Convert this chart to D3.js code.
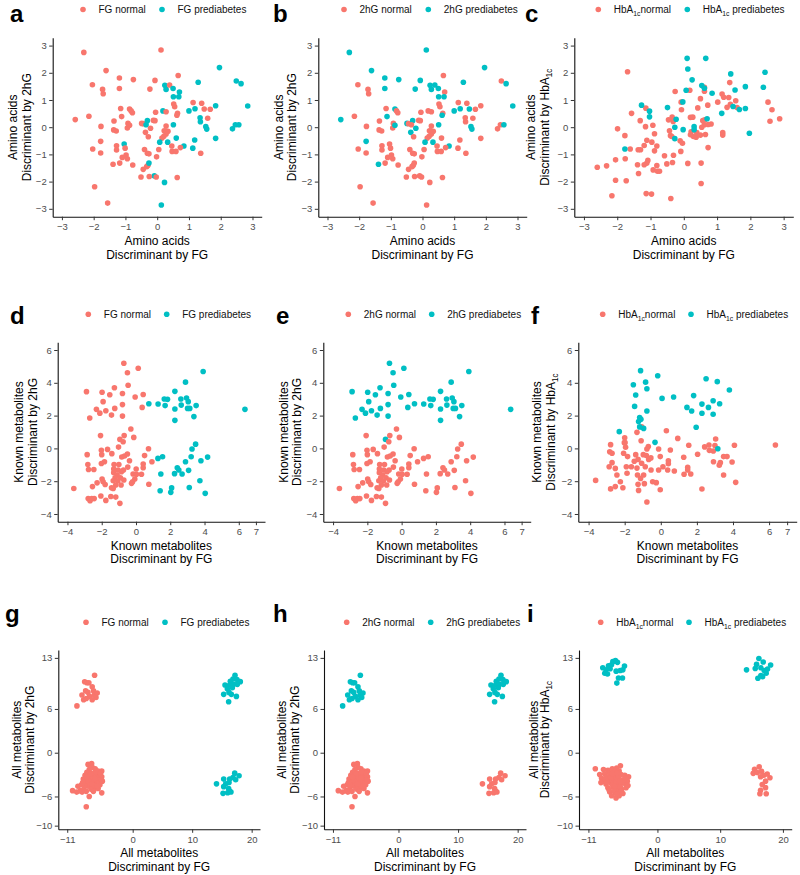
<!DOCTYPE html>
<html><head><meta charset="utf-8">
<script src="https://cdn.jsdelivr.net/npm/d3@7"></script>
<style>
body{margin:0;background:#fff}
text{font-family:"Liberation Sans",Arial,Helvetica,sans-serif}
</style>
</head><body>
<svg id="chart" width="800" height="875"></svg>
<script>
// ---------------- DATA ----------------
const colNormal = "#F8766D", colPre = "#00BFC4";

// Row 1 (a,b): amino acids, [FG discriminant, 2hG discriminant, FG prediabetes, 2hG prediabetes]
const aminoFG2hG = [
[-2.31,2.75,0,1],[0.12,2.84,0,1],[-1.61,2.08,0,1],[1.96,2.19,1,1],[-2.04,1.56,0,0],[-1.19,1.81,0,1],
[-0.75,1.75,0,1],[-0.07,1.72,0,1],[0.66,1.90,0,0],[1.29,1.65,1,1],[2.49,1.70,1,0],[2.64,1.60,1,1],
[-1.72,1.39,0,0],[-1.70,1.23,0,0],[-1.19,1.42,0,1],[-0.23,1.40,0,1],[0.24,1.54,1,1],[0.28,1.39,1,1],
[0.39,1.55,0,1],[0.50,1.42,1,1],[0.70,1.29,1,0],[0.51,1.12,1,1],[0.68,1.12,1,1],[1.13,0.91,0,0],
[1.40,0.88,0,0],[1.00,0.60,1,1],[1.19,0.68,1,1],[1.48,0.67,0,1],[1.67,0.66,0,0],[1.84,0.79,1,0],
[2.85,0.78,1,1],[0.52,0.85,0,0],[0.55,0.75,0,0],[0.18,0.60,1,0],[0.28,0.57,0,0],[-0.05,0.55,0,0],
[0.64,0.51,0,0],[0.62,0.44,0,1],[-2.58,0.28,0,1],[-2.15,0.40,0,0],[-1.15,0.69,0,0],[-0.87,0.67,0,1],
[-0.82,0.60,0,0],[-0.78,0.53,0,0],[-1.12,0.39,0,1],[-1.36,0.23,0,0],[-1.77,0.03,0,0],[-1.37,-0.10,0,0],
[-1.29,-0.14,0,0],[-0.92,0.14,0,0],[-0.94,-0.03,0,0],[-0.87,0.07,0,1],[-0.49,0.14,0,1],[-0.44,0.13,0,0],
[-0.31,0.24,1,1],[-0.35,0.09,1,0],[-0.12,0.25,0,0],[-0.07,0.24,0,0],[-0.21,-0.04,0,1],[-0.37,-0.19,0,1],
[-0.28,-0.35,0,0],[0.28,0.04,0,0],[0.22,-0.13,0,0],[0.34,-0.15,0,0],[0.28,-0.25,0,0],[0.21,-0.33,0,0],
[0.15,-0.40,0,0],[0.51,0.09,1,1],[0.60,-0.40,1,0],[0.33,-0.55,1,1],[0.08,-0.55,1,1],[1.35,0.35,1,0],
[1.36,0.20,1,0],[1.59,0.33,0,0],[1.53,0.02,1,1],[1.56,-0.07,1,1],[2.37,-0.06,1,0],[2.46,0.09,1,0],
[2.57,0.09,1,1],[1.84,-0.41,1,0],[1.18,-0.47,1,0],[0.84,-0.69,1,1],[1.12,-0.77,1,0],[0.46,-0.69,0,0],
[0.47,-0.89,0,0],[0.59,-0.89,0,0],[0.73,-0.75,0,0],[1.37,-0.96,0,0],[-1.78,-0.52,0,1],[-1.04,-0.62,1,0],
[-1.28,-0.68,0,0],[-1.28,-0.84,0,0],[-1.01,-0.77,0,0],[-2.03,-0.80,0,0],[-1.78,-0.95,0,0],[-0.40,-0.82,0,0],
[-0.31,-0.96,0,0],[-0.26,-0.98,0,0],[0.05,-0.82,0,0],[-0.02,-1.09,0,0],[-0.98,-1.02,0,0],[-1.10,-1.11,0,0],
[-0.94,-1.16,0,0],[-1.39,-1.36,0,1],[-1.18,-1.32,0,0],[-0.77,-1.39,0,0],[-0.44,-1.55,0,0],[-0.33,-1.45,0,0],
[-0.29,-1.40,0,0],[-0.26,-1.32,1,0],[-0.09,-1.79,1,0],[-0.51,-1.83,0,0],[-0.25,-1.81,0,0],[-0.03,-1.83,0,0],
[0.63,-1.85,0,0],[0.23,-2.03,1,0],[-1.97,-2.19,0,0],[-1.56,-2.79,0,0],[0.13,-2.86,1,0]
];

// Row 1 (c): amino acids, [FG discriminant, HbA1c discriminant, HbA1c prediabetes]
const aminoHbA1c = [
[-1.69,2.04,0],[-1.57,0.51,0],[-2.60,-1.47,0],[-2.32,-1.42,0],[-2.05,-1.95,0],[-2.16,-2.52,0],
[-1.99,-0.06,0],[-1.77,-0.31,0],[-1.76,-1.16,0],[-1.73,-1.97,0],[-1.61,-0.80,0],[-2.05,-1.20,0],
[-1.31,0.24,0],[-1.15,0.02,0],[-1.14,0.70,0],[-1.37,-0.83,0],[-1.30,-0.83,0],[-1.19,-0.67,0],
[-1.11,-0.48,0],[-1.08,-1.22,0],[-1.11,-1.32,0],[-1.19,-1.38,0],[-1.39,-1.38,0],[-1.36,-1.70,0],
[-1.13,-2.44,0],[-0.97,-2.46,0],[-0.93,0.07,0],[-0.88,-0.24,0],[-0.96,-0.55,0],[-0.88,-0.87,0],
[-0.81,-0.69,0],[-0.81,-1.41,0],[-0.92,-1.57,0],[-0.79,-1.62,0],[-0.73,-1.62,0],[-0.51,-1.35,0],
[-0.34,-1.30,0],[-0.31,-1.03,0],[-0.39,-2.62,0],[-0.26,1.31,0],[-0.46,0.27,0],[-0.43,-0.13,0],
[-0.40,-0.31,0],[-0.36,-0.34,0],[-0.35,0.37,0],[-0.32,0.21,0],[-0.08,0.92,0],[-0.07,0.64,0],
[-0.11,-0.50,0],[-0.04,-0.59,0],[-0.09,-0.89,0],[0.12,-1.33,0],[0.18,1.36,0],[0.20,0.36,0],
[0.27,0.37,0],[0.22,-0.17,0],[0.20,-0.28,0],[0.29,-0.34,0],[0.37,-0.37,0],[0.39,-0.20,0],
[0.42,0.71,0],[0.50,1.05,0],[0.57,0.24,0],[0.62,1.47,0],[0.62,1.32,0],[0.63,0.27,0],
[0.62,0.09,0],[0.54,0.00,0],[0.50,-0.29,0],[0.52,-1.32,0],[0.52,-2.07,0],[0.72,0.81,0],
[0.65,-0.27,0],[0.73,-0.75,0],[0.82,0.12,0],[0.73,0.10,0],[1.02,0.92,0],[1.15,1.22,0],
[1.20,1.10,0],[1.17,-0.20,0],[1.17,-0.29,0],[1.30,0.73,0],[1.38,1.64,0],[1.35,1.09,0],
[1.40,0.84,0],[1.56,0.97,0],[1.60,0.72,0],[2.53,0.92,0],[2.65,0.64,0],[2.59,0.22,0],
[2.88,0.31,0],[-0.58,-1.05,0],
[0.10,2.53,1],[0.66,2.53,1],[0.12,2.14,1],[0.25,1.74,1],[1.41,1.96,1],[2.44,2.02,1],
[0.07,1.36,1],[0.54,1.53,1],[0.62,1.43,1],[0.85,1.25,1],[1.54,1.37,1],[1.85,1.49,1],
[2.39,1.47,1],[-1.27,0.81,1],[-1.03,0.59,1],[-1.03,0.38,1],[-0.49,0.72,1],[-0.03,0.93,1],
[1.14,0.51,1],[1.48,0.76,1],[1.67,0.65,1],[1.85,0.69,1],[0.70,0.31,1],[-0.23,0.29,1],
[-0.27,0.00,1],[-0.02,-0.09,1],[-0.27,-0.42,1],[0.31,0.02,1],[0.31,-0.09,1],[1.97,-0.22,1],
[-1.77,-0.80,1]
];

// Row 2 (d,e): known metabolites, [FG discriminant, 2hG discriminant, FG prediabetes, 2hG prediabetes]
const knownFG2hG = [
[-0.71,5.19,0,1],[0.13,4.89,0,1],[-0.50,4.61,0,1],[-0.46,3.85,0,1],[-2.89,3.46,0,1],[-1.98,3.42,0,1],
[-1.26,3.70,0,1],[-1.53,3.27,0,1],[-0.79,3.35,0,1],[-0.05,3.13,0,1],[0.42,3.29,0,1],[-1.92,2.85,0,1],
[-0.79,2.67,0,1],[-2.31,2.38,0,1],[-1.76,2.30,0,1],[-2.11,2.15,0,1],[-1.24,2.44,0,1],[-2.70,1.85,0,1],
[-1.43,2.03,0,1],[-0.79,1.97,0,1],[0.36,2.50,0,1],
[3.92,4.69,1,1],[2.89,4.04,1,1],[2.27,3.48,1,1],[1.65,3.01,1,1],[1.84,2.99,1,1],[2.62,3.01,1,1],
[2.95,3.07,1,1],[3.05,2.85,1,1],[1.29,2.71,1,1],[0.75,2.72,1,1],[1.70,2.61,1,1],[2.64,2.64,1,1],
[2.27,2.40,1,1],[3.01,2.44,1,1],[3.14,2.44,1,1],[3.51,2.61,1,1],[3.38,1.94,1,1],[2.27,1.71,1,1],
[6.36,2.38,1,1],
[-2.07,0.78,0,0],[-0.30,1.18,0,0],[-0.69,0.78,0,0],[-0.94,0.55,0,1],[-0.13,0.67,0,0],[-0.75,0.41,0,0],
[-1.02,0.08,0,0],[0.73,-0.02,0,0],[-1.66,-0.06,0,0],[-2.02,-0.12,0,0],[-2.85,-0.38,0,0],[-2.00,-0.38,0,0],
[-1.41,-0.32,0,0],[-0.83,-0.52,0,0],[-0.67,-0.46,0,0],[-0.50,-0.34,0,0],[0.50,-0.44,0,0],[-1.84,-0.81,0,0],
[-2.02,-0.92,0,0],[-2.81,-0.98,0,0],[-1.28,-0.98,0,0],[-1.00,-0.98,0,0],[-0.38,-0.75,0,0],[0.42,-0.95,0,0],
[0.93,-0.81,0,0],[-2.77,-1.29,0,0],[-2.46,-1.29,0,0],[-1.30,-1.26,0,0],[-1.04,-1.32,0,0],[-0.73,-1.32,0,0],
[-0.48,-1.14,0,0],[0.01,-1.26,0,0],[0.42,-1.18,0,0],[-1.30,-1.48,0,0],[-1.10,-1.62,0,0],[-0.85,-1.42,0,0],
[-0.17,-1.56,0,0],[0.32,-1.58,0,0],[0.03,-1.58,0,0],[-1.98,-1.87,0,0],[-1.22,-1.79,0,0],[-0.91,-1.79,0,0],
[-0.71,-1.93,0,0],[-1.33,-1.97,0,0],[-1.06,-1.99,0,0],[-1.92,-2.03,0,0],[-2.27,-2.10,0,0],[-1.80,-2.20,0,0],
[-0.20,-2.03,0,0],[-0.07,-1.87,0,0],[-0.26,-2.13,0,0],[0.75,-2.19,0,0],[-1.18,-2.23,0,0],[-0.87,-2.23,0,0],
[-1.43,-2.40,0,0],[-1.33,-2.44,0,0],[-3.63,-2.45,0,0],[-2.54,-2.33,0,0],[-2.05,-2.90,0,0],[-2.79,-3.06,0,0],
[-2.58,-3.06,0,0],[-2.68,-3.19,0,0],[-2.44,-3.06,0,0],[-1.76,-3.17,0,0],[-1.47,-2.93,0,0],[-1.18,-2.97,0,0],
[-0.94,-3.35,0,0],
[1.28,-0.61,1,0],[1.55,-0.51,1,0],[3.48,0.26,1,0],[3.27,-0.04,1,0],[4.18,-0.53,1,0],[3.22,-0.51,1,0],
[2.89,-0.81,1,0],[3.79,-0.75,1,0],[2.41,-1.18,1,0],[2.50,-1.32,1,0],[3.07,-1.34,1,0],[2.69,-1.56,1,0],
[1.45,-1.56,1,0],[2.25,-1.54,1,0],[3.73,-1.97,1,0],[2.08,-2.41,1,0],[3.11,-2.38,1,0],[1.41,-2.58,1,0],
[2.03,-2.68,1,0],[4.04,-2.74,1,0]
];

// Row 2 (f): known metabolites, [FG discriminant, HbA1c discriminant, HbA1c prediabetes]
const knownHbA1c = [
[-1.06,1.32,0],[-1.32,0.98,0],[0.31,1.08,0],[0.94,0.61,0],[-2.00,0.65,0],[-1.09,0.47,0],
[-2.78,0.23,0],[-2.02,0.35,0],[-1.95,0.07,0],[-0.69,0.11,0],[-0.77,-0.04,0],[-0.12,-0.04,0],
[0.53,-0.10,0],[1.55,0.19,0],[3.04,0.57,0],[2.43,0.09,0],[2.67,0.21,0],[3.00,0.17,0],
[2.69,-0.12,0],[2.91,-0.16,0],[4.08,0.19,0],[6.35,0.21,0],[-2.83,-0.20,0],[-2.70,-0.30,0],
[-2.06,-0.30,0],[-1.84,-0.50,0],[-1.39,-0.38,0],[-0.97,-0.38,0],[-0.80,-0.44,0],[-1.26,-0.67,0],
[-1.06,-0.91,0],[-0.67,-0.67,0],[-0.03,-0.50,0],[0.42,-0.75,0],[0.42,-0.93,0],[1.27,-0.54,0],
[2.04,-0.36,0],[3.67,-0.50,0],[3.48,-0.50,0],[2.92,-0.81,0],[3.30,-0.87,0],[3.24,-1.02,0],
[3.95,-0.83,0],[-2.86,-1.12,0],[-2.70,-0.87,0],[-2.52,-1.22,0],[-1.91,-1.12,0],[-1.63,-1.12,0],
[-1.87,-1.52,0],[-1.32,-1.20,0],[-0.86,-1.12,0],[-0.54,-1.32,0],[-0.12,-1.32,0],[0.12,-1.12,0],
[0.38,-1.32,0],[0.75,-1.38,0],[1.49,-1.16,0],[1.49,-1.32,0],[-2.43,-1.62,0],[-1.29,-1.62,0],
[-0.95,-1.62,0],[1.29,-1.58,0],[1.66,-1.56,0],[3.48,-1.62,0],[-3.61,-1.95,0],[-2.24,-2.03,0],
[-1.26,-2.19,0],[-0.91,-2.15,0],[-0.45,-2.03,0],[-0.25,-2.09,0],[4.15,-2.07,0],[-2.78,-2.47,0],
[-2.52,-2.33,0],[-2.10,-2.40,0],[-1.23,-2.56,0],[-0.03,-2.52,0],[2.28,-2.48,0],[-0.77,-3.27,0],
[-1.98,0.35,0],[-1.47,-0.78,0],[-0.55,-0.58,0],[-1.12,-1.83,0],
[-1.12,4.74,1],[-0.17,4.43,1],[-1.52,3.88,1],[-0.84,4.04,1],[-0.77,3.64,1],[-1.39,3.26,1],
[0.07,3.05,1],[0.71,3.13,1],[-1.45,2.56,1],[-0.77,2.28,1],[-1.17,1.88,1],[-1.10,1.78,1],
[-1.23,1.64,1],[-1.17,1.31,1],[-0.95,1.22,1],[-2.30,1.02,1],[-0.32,0.37,1],[2.51,4.25,1],
[3.13,4.07,1],[3.80,3.56,1],[1.82,3.22,1],[1.45,2.50,1],[1.71,2.28,1],[2.28,2.70,1],
[2.64,2.50,1],[2.90,2.91,1],[3.26,2.72,1],[2.28,2.14,1],[2.90,2.08,1],[1.96,1.29,1],
[3.16,-0.02,1]
];

// Row 3 (g,h): all metabolites, [FG discriminant, 2hG discriminant, FG prediabetes, 2hG prediabetes]
const allFG2hG = [
[-6.40,10.62,0,1],[-8.07,9.73,0,1],[-7.69,9.59,0,1],[-7.36,9.59,0,1],[-6.80,9.03,0,1],[-6.58,8.47,0,1],
[-5.96,8.19,0,1],[-7.91,8.47,0,1],[-7.52,8.29,0,1],[-8.52,7.91,0,1],[-7.24,7.72,0,1],[-6.45,7.91,0,1],
[-6.17,7.58,0,1],[-7.80,7.44,0,1],[-6.80,7.26,0,1],[-8.24,7.26,0,1],[-9.37,6.42,0,1],
[17.20,10.62,1,1],[16.86,10.11,1,1],[16.41,9.79,1,1],[17.53,10.02,1,1],[18.09,9.74,1,1],[15.52,9.28,1,1],
[16.30,9.28,1,1],[16.98,9.37,1,1],[17.59,9.37,1,1],[15.91,8.76,1,1],[16.75,8.90,1,1],[16.19,8.27,1,1],
[15.30,8.00,1,1],[16.58,8.00,1,1],[17.43,7.72,1,1],[16.13,6.99,1,1],
[-7.5,-1.6,0,0],[-6.9,-1.5,0,0],[-6.8,-2.0,0,0],[-7.3,-2.3,0,0],[-6.3,-2.2,0,0],[-5.8,-2.5,0,0],
[-5.2,-2.5,0,0],[-7.7,-2.7,0,0],[-6.9,-2.8,0,0],[-6.1,-2.9,0,0],[-5.5,-3.0,0,0],[-8.0,-3.1,0,0],
[-7.3,-3.2,0,0],[-6.6,-3.3,0,0],[-5.9,-3.4,0,0],[-5.2,-3.3,0,0],[-8.3,-3.6,0,0],[-7.6,-3.6,0,0],
[-7.0,-3.7,0,0],[-6.4,-3.8,0,0],[-5.7,-3.8,0,0],[-5.1,-3.9,0,0],[-7.9,-4.0,0,0],[-7.2,-4.2,0,0],
[-6.7,-4.1,0,0],[-6.1,-4.3,0,0],[-5.5,-4.4,0,0],[-8.6,-4.4,0,0],[-7.5,-4.6,0,0],[-6.9,-4.7,0,0],
[-6.3,-4.8,0,0],[-5.8,-4.9,0,0],[-9.2,-4.6,0,0],[-8.8,-5.2,0,0],[-8.2,-5.0,0,0],[-7.8,-5.3,0,0],
[-10.1,-5.2,0,0],[-9.4,-5.4,0,0],[-7.3,-6.0,0,0],[-5.2,-5.5,0,0],[-7.8,-7.4,0,0],[-6.4,-3.0,0,0],
[-6.8,-3.5,0,0],[-7.1,-2.9,0,0],[-6.0,-3.7,0,0],[-5.6,-4.1,0,0],[-6.5,-4.5,0,0],[-7.4,-3.9,0,0],
[-8.1,-4.5,0,0],[-6.2,-2.6,0,0],[-5.4,-2.8,0,0],[-7.0,-5.0,0,0],[-6.6,-5.3,0,0],[-8.4,-4.1,0,0],
[-5.9,-4.6,0,0],[-7.7,-3.3,0,0],[-6.3,-3.5,0,0],[-6.9,-4.3,0,0],[-5.3,-3.7,0,0],[-8.5,-5.4,0,0],
[17.15,-2.80,1,0],[17.88,-3.16,1,0],[16.86,-3.39,1,0],[17.31,-3.71,1,0],[16.30,-3.62,1,0],[15.30,-3.62,1,0],
[16.19,-4.09,1,0],[14.09,-4.27,1,0],[15.64,-4.27,1,0],[15.30,-4.65,1,0],[16.13,-4.93,1,0],[16.30,-5.25,1,0],
[15.19,-5.57,1,0],[15.97,-5.48,1,0],[16.52,-5.39,1,0]
];

// Row 3 (i): all metabolites, [FG discriminant, HbA1c discriminant, HbA1c prediabetes]
const allHbA1c = [
[-9.9,-2.2,0],[-8.6,-2.3,0],[-7.9,-2.4,0],[-7.2,-2.2,0],[-6.5,-2.1,0],[-5.9,-1.8,0],[-6.1,-2.5,0],
[-6.8,-2.7,0],[-7.6,-2.8,0],[-8.4,-2.9,0],[-9.2,-3.0,0],[-8.9,-3.5,0],[-8.1,-3.3,0],[-7.3,-3.2,0],
[-6.6,-3.1,0],[-5.8,-3.0,0],[-5.2,-3.1,0],[-4.6,-3.3,0],[-8.6,-3.9,0],[-7.8,-3.8,0],[-7.0,-3.7,0],
[-6.3,-3.6,0],[-5.5,-3.7,0],[-4.8,-3.9,0],[-9.0,-4.1,0],[-8.2,-4.3,0],[-7.4,-4.2,0],[-6.7,-4.3,0],
[-6.0,-4.4,0],[-5.3,-4.2,0],[-7.9,-4.8,0],[-7.1,-4.7,0],[-6.4,-4.9,0],[-5.7,-5.0,0],[-5.0,-4.8,0],
[-7.6,-5.4,0],[-6.9,-5.3,0],[-6.2,-5.5,0],[-5.5,-5.6,0],[-6.6,-6.2,0],[-6.1,-5.9,0],[-7.3,-5.9,0],
[-6.9,-3.4,0],[-6.2,-3.3,0],[-5.6,-4.0,0],[-7.5,-3.5,0],[-6.6,-4.0,0],[-5.9,-4.7,0],[-7.1,-4.4,0],
[-8.3,-3.6,0],[-5.0,-3.5,0],[-6.4,-2.8,0],[-7.2,-2.9,0],[-6.8,-4.6,0],[-5.8,-5.3,0],[-4.7,-4.5,0],
[-8.0,-4.0,0],[-6.0,-3.9,0],[-7.7,-5.1,0],[-6.5,-5.7,0],
[16.22,-1.94,0],[15.48,-2.27,0],[15.27,-2.83,0],[15.91,-2.73,0],[16.60,-2.54,0],[16.97,-3.10,0],
[17.93,-3.43,0],[17.50,-2.92,0],[16.44,-3.29,0],[17.23,-3.90,0],[16.70,-4.37,0],[17.23,-4.79,0],
[16.44,-5.16,0],[16.33,-5.63,0],[17.34,-5.63,0],
[-8.71,11.65,1],[-7.80,11.92,1],[-7.11,12.48,1],[-6.69,12.62,1],[-6.37,12.39,1],[-7.32,12.06,1],
[-8.18,11.36,1],[-7.54,11.50,1],[-8.39,10.89,1],[-7.96,10.80,1],[-6.58,11.18,1],[-5.94,11.27,1],
[-5.25,11.88,1],[-5.51,11.36,1],[-6.21,10.24,1],[-5.57,10.24,1],[-6.47,9.54,1],
[16.17,12.92,1],[16.86,12.44,1],[15.80,12.11,1],[18.04,12.02,1],[15.59,11.55,1],[14.20,11.36,1],
[16.49,11.64,1],[17.02,11.27,1],[17.55,11.46,1],[17.33,10.89,1],[16.49,10.57,1],[16.01,10.20,1],
[16.76,10.43,1]
];

// Tick values
const ticksAmino = [-3,-2,-1,0,1,2,3];
const ticksKnownX = [-4,-2,0,2,4,6,7];
const ticksKnownY = [-4,-2,0,2,4,6];
const ticksAllX = [-11,0,10,20];
const ticksAllY = [-10,-6,0,6,13];

// Labels
const legFG = ["FG normal","FG prediabetes"];
const leg2hG = ["2hG normal","2hG prediabetes"];
const legHbA = ["HbA_{1c}normal","HbA_{1c} prediabetes"];

// ---------------- LAYOUT ----------------
const rows = [
  {top:37.7, bottom:216.7, xd:[-3.29,3.29], yd:[-3.29,3.29], xt:ticksAmino, yt:ticksAmino,
   name:"Amino acids", xtY:[245,258.5], legY:9.5, labY:22},
  {top:342.3, bottom:521.7, xd:[-4.57,7.53], yd:[-4.47,6.47], xt:ticksKnownX, yt:ticksKnownY,
   name:"Known metabolites", xtY:[550,562.7], legY:314.3, labY:323.5},
  {top:650, bottom:829.3, xd:[-12.5,21.4], yd:[-10.5,14.08], xt:ticksAllX, yt:ticksAllY,
   name:"All metabolites", xtY:[857,870.5], legY:622.3, labY:622}
];

const panels = [
  {row:0, label:"a", lx:10,  left:52.7,  right:261.7, data:aminoFG2hG, key:2, leg:legFG,  legX:[83,162],     yt:"Discriminant by 2hG", ytx:[12.7,26.7]},
  {row:0, label:"b", lx:273, left:318.3, right:526.7, data:aminoFG2hG, key:3, leg:leg2hG, legX:[344,428.3],  yt:"Discriminant by 2hG", ytx:[278.3,291.7]},
  {row:0, label:"c", lx:525, left:574.3, right:793.3, data:aminoHbA1c, key:2, leg:legHbA, legX:[598.3,687.3],yt:"Discriminant by HbA_{1c}", ytx:[531,545]},
  {row:1, label:"d", lx:10,  left:57.7,  right:265,   data:knownFG2hG, key:2, leg:legFG,  legX:[88.3,166.7], yt:"Discriminant by 2hG", ytx:[18.3,32.3]},
  {row:1, label:"e", lx:276, left:323.3, right:530.7, data:knownFG2hG, key:3, leg:leg2hG, legX:[348.3,431.7],yt:"Discriminant by 2hG", ytx:[283.3,296.7]},
  {row:1, label:"f", lx:531, left:578.3, right:796.7, data:knownHbA1c, key:2, leg:legHbA, legX:[602.7,691],  yt:"Discriminant by HbA_{1c}", ytx:[536.7,550.7]},
  {row:2, label:"g", lx:5,   left:58.3,  right:260,   data:allFG2hG,   key:2, leg:legFG,  legX:[86,165],     yt:"Discriminant by 2hG", ytx:[16.7,30]},
  {row:2, label:"h", lx:273, left:324,   right:526,   data:allFG2hG,   key:3, leg:leg2hG, legX:[346.7,430.7],yt:"Discriminant by 2hG", ytx:[281.7,295]},
  {row:2, label:"i", lx:527, left:579,   right:791.7, data:allHbA1c,   key:2, leg:legHbA, legX:[600.7,689],  yt:"Discriminant by HbA_{1c}", ytx:[533.3,545]}
];

// ---------------- DRAW ----------------
const svg = d3.select("#chart");
svg.append("rect").attr("width",800).attr("height",875).attr("fill","#fff");

function richText(t, str){
  const parts = str.split("_{1c}");
  parts.forEach((p,i)=>{
    if(i>0){
      t.append("tspan").attr("font-size","0.68em").attr("dy",3).text("1c");
      t.append("tspan").attr("dy",-3).text(p);
    } else {
      t.append("tspan").text(p);
    }
  });
}

const fmt = d3.format("d");

panels.forEach(p=>{
  const r = rows[p.row];
  const g = svg.append("g");
  const x = d3.scaleLinear().domain(r.xd).range([p.left, p.right]);
  const y = d3.scaleLinear().domain(r.yd).range([r.bottom, r.top]);

  // points
  g.append("g").selectAll("circle").data(p.data).join("circle")
    .attr("cx", d=>x(d[0])).attr("cy", d=>y(d[1])).attr("r", 2.8)
    .attr("fill", d=> d[p.key] ? colPre : colNormal);

  // axes
  const xa = g.append("g").attr("transform",`translate(0,${r.bottom})`)
    .call(d3.axisBottom(x).tickValues(r.xt).tickFormat(fmt).tickSize(3.5).tickSizeOuter(0).tickPadding(3));
  const ya = g.append("g").attr("transform",`translate(${p.left},0)`)
    .call(d3.axisLeft(y).tickValues(r.yt).tickFormat(fmt).tickSize(3.5).tickSizeOuter(0).tickPadding(2.5));
  [xa,ya].forEach(a=>{
    a.select(".domain").attr("stroke","#111").attr("stroke-width",1.1);
    a.selectAll(".tick line").attr("stroke","#333").attr("stroke-width",1);
    a.selectAll(".tick text").attr("fill","#4d4d4d").attr("font-size","9.5px")
      .attr("font-family","'Liberation Sans',Arial,sans-serif");
  });

  // x title
  const cx = (p.left + p.right)/2;
  g.append("text").attr("x",cx).attr("y",r.xtY[0]).attr("text-anchor","middle")
    .attr("font-size","12px").attr("fill","#000").text(r.name);
  g.append("text").attr("x",cx).attr("y",r.xtY[1]).attr("text-anchor","middle")
    .attr("font-size","12px").attr("fill","#000").text("Discriminant by FG");

  // y title
  const cy = (r.top + r.bottom)/2;
  g.append("text").attr("transform",`translate(${p.ytx[0]},${cy}) rotate(-90)`)
    .attr("dy","0.35em").attr("text-anchor","middle").attr("font-size","12px").attr("fill","#000").text(r.name);
  const t2 = g.append("text").attr("transform",`translate(${p.ytx[1]},${cy}) rotate(-90)`)
    .attr("dy","0.35em").attr("text-anchor","middle").attr("font-size","12px").attr("fill","#000");
  richText(t2, p.yt);

  // legend
  p.leg.forEach((lab,i)=>{
    g.append("circle").attr("cx",p.legX[i]).attr("cy",r.legY).attr("r",2.8)
      .attr("fill", i ? colPre : colNormal);
    const lt = g.append("text").attr("x",p.legX[i]+15.5).attr("y",r.legY+3.5)
      .attr("font-size","10px").attr("fill","#111");
    richText(lt, lab);
  });

  // panel label
  g.append("text").attr("x",p.lx).attr("y",r.labY).attr("font-size","24px")
    .attr("font-weight","bold").attr("fill","#000").text(p.label);
});
</script>
</body></html>
